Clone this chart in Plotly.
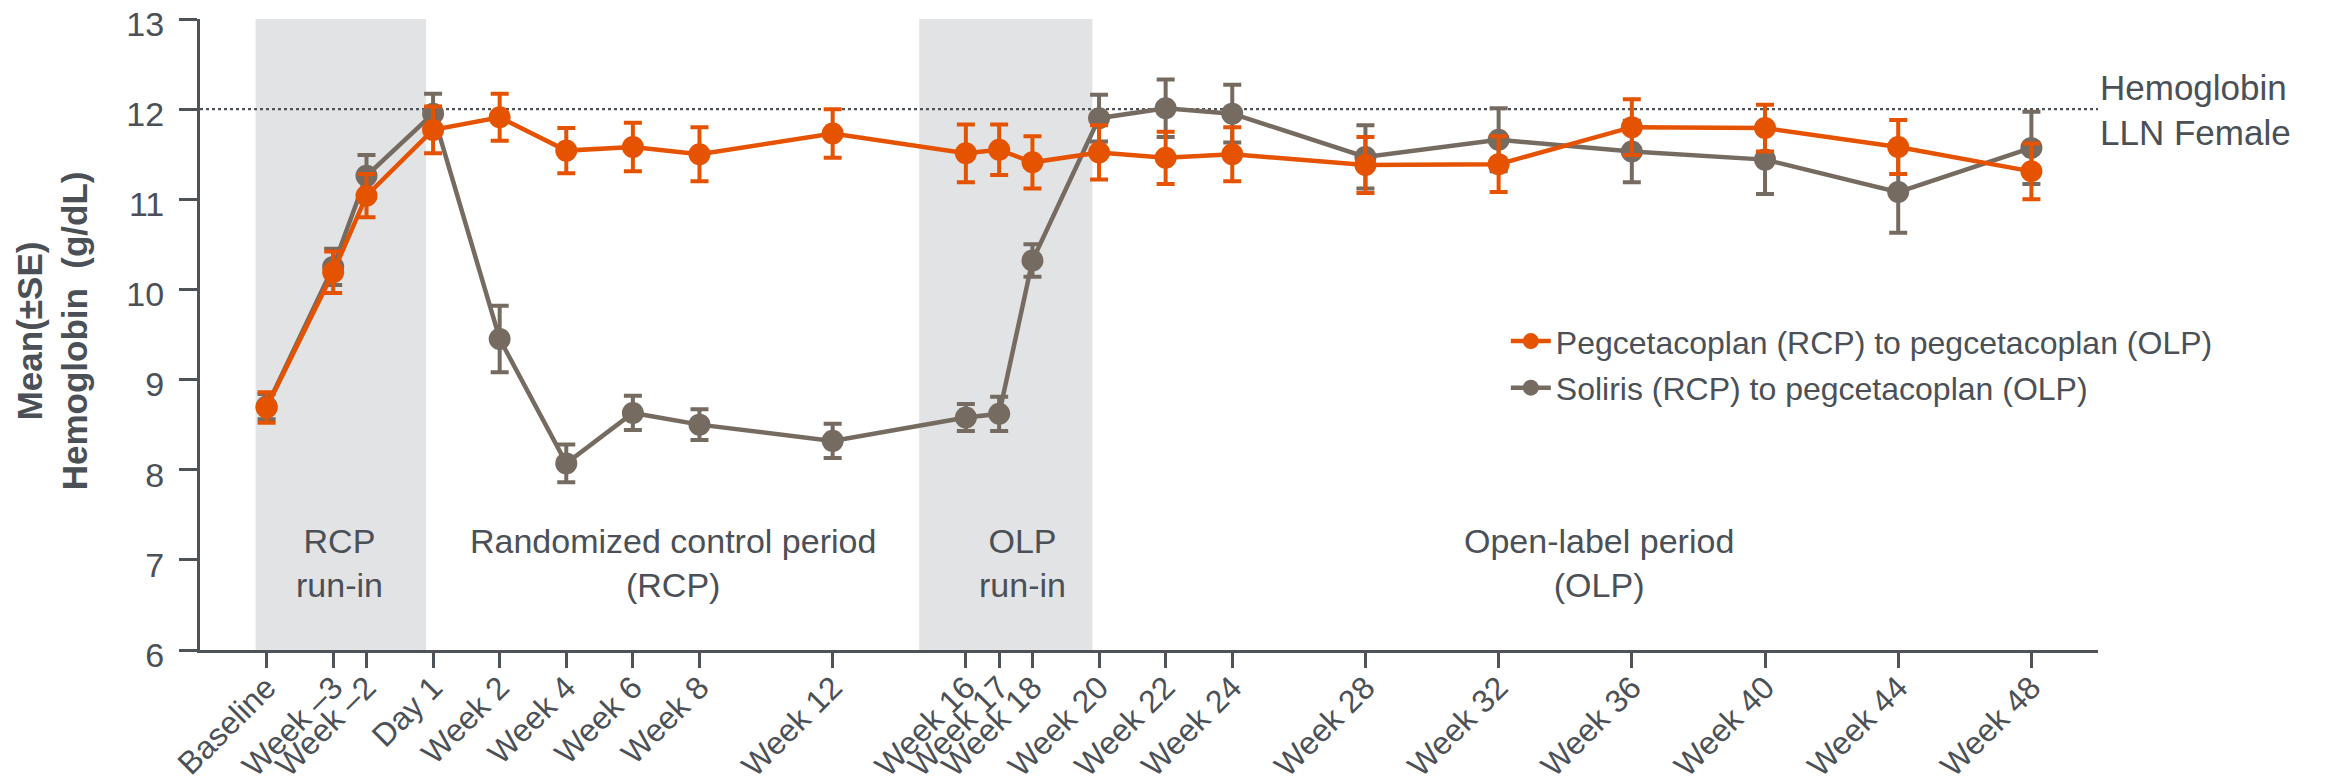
import plotly.graph_objects as go

# ---- data ----
weeks = [-5, -3, -2, 0, 2, 4, 6, 8, 12, 16, 17, 18, 20, 22, 24, 28, 32, 36, 40, 44, 48]
tick_labels = ["Baseline", "Week \u20133", "Week \u20132", "Day 1", "Week 2", "Week 4", "Week 6",
               "Week 8", "Week 12", "Week 16", "Week 17", "Week 18", "Week 20", "Week 22",
               "Week 24", "Week 28", "Week 32", "Week 36", "Week 40", "Week 44", "Week 48"]
y_ticks = [6, 7, 8, 9, 10, 11, 12, 13]

peg_mean = [8.69, 10.19, 11.04, 11.77, 11.91, 11.54, 11.58, 11.50, 11.73, 11.51, 11.55,
            11.41, 11.52, 11.46, 11.50, 11.38, 11.39, 11.80, 11.79, 11.58, 11.31]
peg_se = [0.17, 0.23, 0.24, 0.26, 0.26, 0.25, 0.27, 0.30, 0.27, 0.32, 0.28,
          0.29, 0.30, 0.29, 0.30, 0.31, 0.31, 0.31, 0.26, 0.30, 0.31]
sol_mean = [8.70, 10.25, 11.26, 11.95, 9.45, 8.07, 8.63, 8.50, 8.32, 8.58, 8.62,
            10.32, 11.90, 12.01, 11.95, 11.47, 11.66, 11.53, 11.44, 11.08, 11.57]
sol_se = [0.14, 0.20, 0.23, 0.22, 0.37, 0.21, 0.19, 0.17, 0.19, 0.15, 0.19,
          0.18, 0.26, 0.32, 0.32, 0.35, 0.35, 0.34, 0.38, 0.45, 0.40]

peg_name = "Pegcetacoplan (RCP) to pegcetacoplan (OLP)"
sol_name = "Soliris (RCP) to pegcetacoplan (OLP)"
lln_value = 12
lln_lines = ["Hemoglobin", "LLN Female"]

period_labels = ["RCP<br>run-in", "Randomized control period<br>(RCP)",
                 "OLP<br>run-in", "Open-label period<br>(OLP)"]
period_centers = [-2.8, 7.2, 17.7, 35.0]
shade_spans = [(-5.33, -0.21), (14.6, 19.8)]

ORANGE = "#E65300"
GRAY = "#766B61"
TEXT = "#4B5057"
AXIS = "#4E5359"
FONT = "Liberation Sans, Arial, sans-serif"

fig = go.Figure()

fig.add_trace(go.Scatter(
    x=weeks, y=sol_mean, name=sol_name, mode="lines+markers",
    line=dict(color=GRAY, width=4.5),
    marker=dict(color=GRAY, size=22),
    error_y=dict(type="data", array=sol_se, visible=True, color=GRAY, thickness=4, width=9),
    legendrank=2, legendgroup="b",
))
fig.add_trace(go.Scatter(
    x=weeks, y=peg_mean, name=peg_name, mode="lines+markers",
    line=dict(color=ORANGE, width=4.5),
    marker=dict(color=ORANGE, size=22),
    error_y=dict(type="data", array=peg_se, visible=True, color=ORANGE, thickness=4, width=9),
    legendrank=1, legendgroup="a",
))

shapes = []
annotations = []
for x0, x1 in shade_spans:
    shapes.append(dict(type="rect", xref="x", yref="y", x0=x0, x1=x1, y0=6, y1=13,
                       fillcolor="#E2E3E5", line=dict(width=0), layer="below"))
for lab, cx in zip(period_labels, period_centers):
    annotations.append(dict(x=cx, y=6.97, xref="x", yref="y", text=lab,
                            showarrow=False, font=dict(size=34, color=TEXT, family=FONT),
                            xanchor="center", yanchor="middle", align="center"))

shapes.append(dict(type="line", xref="x", yref="y", x0=-7, x1=50, y0=lln_value, y1=lln_value,
                   line=dict(color="#4E5359", width=2.2, dash="dot"), layer="below"))

for txt, ysh in zip(lln_lines, [22, -23]):
    annotations.append(dict(x=1.0, y=lln_value, xref="paper", yref="y", xshift=0, yshift=ysh,
                            text=txt, showarrow=False,
                            font=dict(size=35, color=TEXT, family=FONT),
                            xanchor="left", yanchor="middle", align="left"))

annotations.append(dict(x=0, y=0.505, xref="paper", yref="paper", xshift=-148,
                        text="<b>Mean(\u00b1SE)</b><br><b>Hemoglobin  (g/dL)</b>",
                        textangle=-90, showarrow=False,
                        font=dict(size=35, color=TEXT, family=FONT),
                        xanchor="center", yanchor="middle", align="center"))

fig.update_layout(
    width=2336, height=782,
    margin=dict(l=192, r=246, t=11, b=140),
    paper_bgcolor="white", plot_bgcolor="white",
    font=dict(family=FONT, color=TEXT),
    shapes=shapes, annotations=annotations,
    showlegend=True,
    legend=dict(x=0.688, y=0.452, xanchor="left", yanchor="middle",
                font=dict(size=32, color=TEXT, family=FONT),
                bgcolor="rgba(0,0,0,0)", itemwidth=40,
                traceorder="grouped", tracegroupgap=2),
)

fig.update_xaxes(
    range=[-7, 50], tickmode="array", tickvals=weeks, ticktext=tick_labels,
    tickangle=-45, tickfont=dict(size=32, color=TEXT, family=FONT),
    showline=True, linecolor=AXIS, linewidth=3, ticks="outside", ticklen=15,
    tickwidth=3, tickcolor=AXIS, showgrid=False, zeroline=False,
    automargin=False, ticklabeloverflow="allow", ticklabelstandoff=-12,
)
fig.update_yaxes(
    range=[6, 13], tickmode="array", tickvals=y_ticks,
    tickfont=dict(size=34, color=TEXT, family=FONT),
    showline=True, linecolor=AXIS, linewidth=3, ticks="outside", ticklen=18,
    tickwidth=3, tickcolor=AXIS, showgrid=False, zeroline=False, ticklabelstandoff=8,
    ticklabelshift=5,
    automargin=False, ticklabeloverflow="allow",
)

fig.write_html("out.html")
